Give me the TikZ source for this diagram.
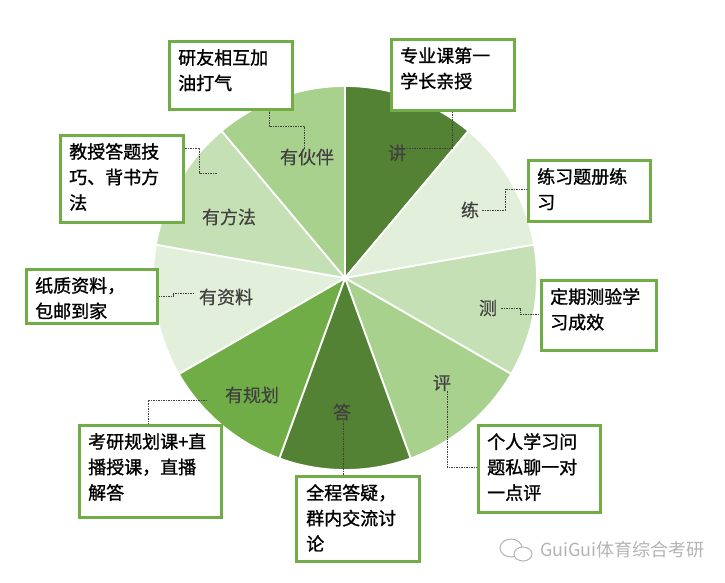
\documentclass[tikz,border=0pt]{standalone}
\usepackage{fontspec}
\setmainfont{Noto Sans CJK SC}
\newfontfamily\boxfont{Noto Sans CJK SC}[FakeBold=1.2]
\newfontfamily\lblfont{Noto Sans CJK SC}[FakeBold=0.5]
\definecolor{gdark}{HTML}{548235}
\definecolor{gmid}{HTML}{70AD47}
\definecolor{glight}{HTML}{A9D18E}
\definecolor{gpale}{HTML}{C5E0B4}
\definecolor{gvpale}{HTML}{E2EFDA}
\definecolor{lblgray}{HTML}{404040}
\definecolor{wmgray}{HTML}{B4B4B4}
\begin{document}
\begin{tikzpicture}[x=1pt,y=1pt,
  slice/.style={draw=white, line width=1.8pt},
  slbl/.style={text=lblgray, font=\lblfont\fontsize{18}{20}\selectfont, inner sep=0pt},
  callout/.style={draw=gmid, line width=3pt, fill=white, anchor=north west, inner sep=0pt},
  ctext/.style={anchor=north west, align=left, inner sep=0pt, font=\boxfont\fontsize{18}{25.5}\selectfont},
  leader/.style={draw=lblgray, line width=0.6pt, dash pattern=on 1.5pt off 1pt}]
\useasboundingbox (0,0) rectangle (725,583);
% pie
\foreach \a/\b/\c in {50/90/gdark, 10/50/gvpale, -30/10/gpale, -70/-30/glight, -110/-70/gdark, -150/-110/gmid, 170/210/gvpale, 130/170/gpale, 90/130/glight}
  \filldraw[fill=\c, slice] (345,305) -- ++(\a:192) arc[start angle=\a, end angle=\b, radius=192] -- cycle;
% slice labels
\node[slbl] (l_j) at (397,430) {讲};
\node[slbl] (l_l) at (470,373) {练};
\node[slbl] (l_c) at (488,275) {测};
\node[slbl] (l_p) at (442,200) {评};
\node[slbl] (l_d) at (342,171) {答};
\node[slbl] (l_g) at (252,188) {有规划};
\node[slbl] (l_z) at (226,286) {有资料};
\node[slbl] (l_f) at (229,366) {有方法};
\node[slbl] (l_h) at (307,426) {有伙伴};
% callout boxes
\node[callout, minimum width=123pt, minimum height=68pt] (b_h) at (168,543) {};
\node[ctext] (t_h) at (178,534) {研友相互加\\油打气};
\node[callout, minimum width=123pt, minimum height=87pt] (b_f) at (59,449) {};
\node[ctext] (t_f) at (69,440) {教授答题技\\巧、背书方\\法};
\node[callout, minimum width=123pt, minimum height=71pt] (b_j) at (390,545) {};
\node[ctext] (t_j) at (400,536) {专业课第一\\学长亲授};
\node[callout, minimum width=122pt, minimum height=61pt] (b_l) at (527,424) {};
\node[ctext] (t_l) at (537,415) {练习题册练\\习};
\node[callout, minimum width=115pt, minimum height=70pt] (b_c) at (540,304) {};
\node[ctext] (t_c) at (550,295) {定期测验学\\习成效};
\node[callout, minimum width=131pt, minimum height=54pt] (b_z) at (25,315) {};
\node[ctext] (t_z) at (35,306) {纸质资料，\\包邮到家};
\node[callout, minimum width=142pt, minimum height=92pt] (b_g) at (78,159) {};
\node[ctext] (t_g) at (88,150) {考研规划课+直\\播授课，直播\\解答};
\node[callout, minimum width=123pt, minimum height=85pt] (b_d) at (295,108) {};
\node[ctext] (t_d) at (306,99) {全程答疑，\\群内交流讨\\论};
\node[callout, minimum width=122pt, minimum height=87pt] (b_p) at (477,159) {};
\node[ctext] (t_p) at (487,150) {个人学习问\\题私聊一对\\一点评};
% leaders
\coordinate (k_h) at (269,457);
\draw[leader] ([xshift=-3pt]l_h.north) |- (k_h) -- (k_h |- b_h.south);
\coordinate (k_f1) at (199,435);
\coordinate (k_f2) at (217,410);
\draw[leader] (k_f1 -| b_f.east) -- (k_f1) |- (k_f2);
\coordinate (k_j) at (452,435);
\draw[leader] (k_j |- b_j.south) -- (k_j) -- (k_j -| l_j.east);
\coordinate (k_l) at (505,394);
\draw[leader] ([xshift=3pt]l_l.east) -| (k_l) -- (k_l -| b_l.west);
\coordinate (k_c) at (520,269);
\draw[leader] ([xshift=4pt]l_c.east) -| (k_c) -- (k_c -| b_c.west);
\coordinate (k_p) at (447,116);
\draw[leader] ([xshift=5pt]l_p.south) -- (k_p) -- (k_p -| b_p.west);
\draw[leader] ([xshift=1pt]l_d.south) -- ([xshift=1pt]l_d.south |- b_d.north);
\coordinate (k_g1) at (207,183);
\coordinate (k_g) at (148,183);
\draw[leader] (k_g1) -- (k_g) -- (k_g |- b_g.north);
\coordinate (k_z1) at (194,290);
\coordinate (k_z2) at (173,287);
\draw[leader] (k_z1) -| (k_z2) -- (k_z2 -| b_z.east);
% watermark
\draw[wmgray, line width=1pt, fill=white] (511,35) ellipse[x radius=11, y radius=9];
\draw[wmgray, line width=1pt, fill=white] (523,29) ellipse[x radius=9, y radius=7];
\node[text=wmgray, font=\fontsize{18}{20}\selectfont, inner sep=0pt, anchor=west] (wm) at (540,33) {GuiGui体育综合考研};
\end{tikzpicture}
\end{document}
